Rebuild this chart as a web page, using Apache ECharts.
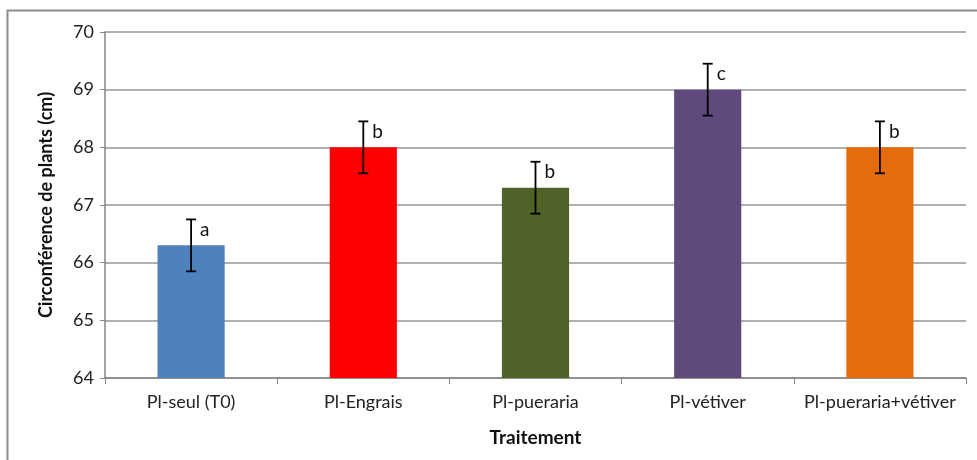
<!DOCTYPE html>
<html><head><meta charset="utf-8">
<script src="https://cdn.jsdelivr.net/npm/echarts@6/dist/echarts.min.js"></script>
<style>html,body{margin:0;padding:0;background:#fff}#c{width:977px;height:460px}</style>
</head><body><div id="c"></div>
<script>
const categories = ['Pl-seul (T0)', 'Pl-Engrais', 'Pl-pueraria', 'Pl-vétiver', 'Pl-pueraria+vétiver'];
const values = [66.3, 68.0, 67.3, 69.0, 68.0];
const errors = [0.45, 0.45, 0.45, 0.45, 0.45];
const letters = ['a', 'b', 'b', 'c', 'b'];
const colors = ['#4F81BD', '#FF0000', '#4F6228', '#604A7B', '#E46C0A'];
const yTicks = [64, 65, 66, 67, 68, 69, 70];

const chart = echarts.init(document.getElementById('c'));
const font = 'Lato, Open Sans, sans-serif';
chart.setOption({
  animation: false,
  graphic: [{type:'polyline', shape:{points:[[7.5,460],[7.5,10.5],[977,10.5]]}, style:{stroke:'#8c8c8c', lineWidth:2, fill:null}}],
  grid: {left: 105, right: 11, top: 32, bottom: 82},
  xAxis: {
    type: 'category', data: categories,
    axisLine: {lineStyle: {color: '#868686', width: 1.5}},
    axisTick: {show: true, interval: 0, length: 6, alignWithLabel: false, lineStyle: {color: '#868686'}},
    axisLabel: {interval: 0, color: '#222', fontSize: 18, fontFamily: font, margin: 15},
    name: 'Traitement', nameLocation: 'middle', nameGap: 50,
    nameTextStyle: {fontWeight: 'bold', fontSize: 19, color: '#111', fontFamily: font}
  },
  yAxis: {
    type: 'value', min: yTicks[0], max: yTicks[yTicks.length-1], interval: 1,
    axisLine: {show: true, lineStyle: {color: '#868686', width: 1.5}},
    axisTick: {show: true, length: 5, lineStyle: {color: '#868686'}},
    splitLine: {lineStyle: {color: '#969696', width: 1.5}},
    axisLabel: {color: '#222', fontSize: 18, fontFamily: font, margin: 11},
    name: 'Circonférence de plants (cm)', nameLocation: 'middle', nameGap: 50,
    nameTextStyle: {fontWeight: 'bold', fontSize: 18, color: '#111', fontFamily: font}
  },
  series: [
    {
      type: 'bar', barWidth: '39%',
      data: values.map((v, i) => ({value: v, itemStyle: {color: colors[i]}}))
    },
    {
      type: 'custom', z: 10,
      data: values.map((v, i) => [i, v - errors[i], v + errors[i], letters[i]]),
      renderItem: function (params, api) {
        const lo = api.coord([api.value(0), api.value(1)]);
        const hi = api.coord([api.value(0), api.value(2)]);
        const x = lo[0], w = 5;
        const st = {stroke: '#000', lineWidth: 1.8};
        return {type: 'group', children: [
          {type: 'line', shape: {x1: x, y1: lo[1], x2: x, y2: hi[1]}, style: st},
          {type: 'line', shape: {x1: x - w, y1: lo[1], x2: x + w, y2: lo[1]}, style: st},
          {type: 'line', shape: {x1: x - w, y1: hi[1], x2: x + w, y2: hi[1]}, style: st},
          {type: 'text', x: x + 9, y: hi[1] + 10, style: {text: api.value(3), fill: '#111', fontSize: 19, fontFamily: font, verticalAlign: 'middle', align: 'left'}}
        ]};
      }
    }
  ]
});
</script></body></html>
